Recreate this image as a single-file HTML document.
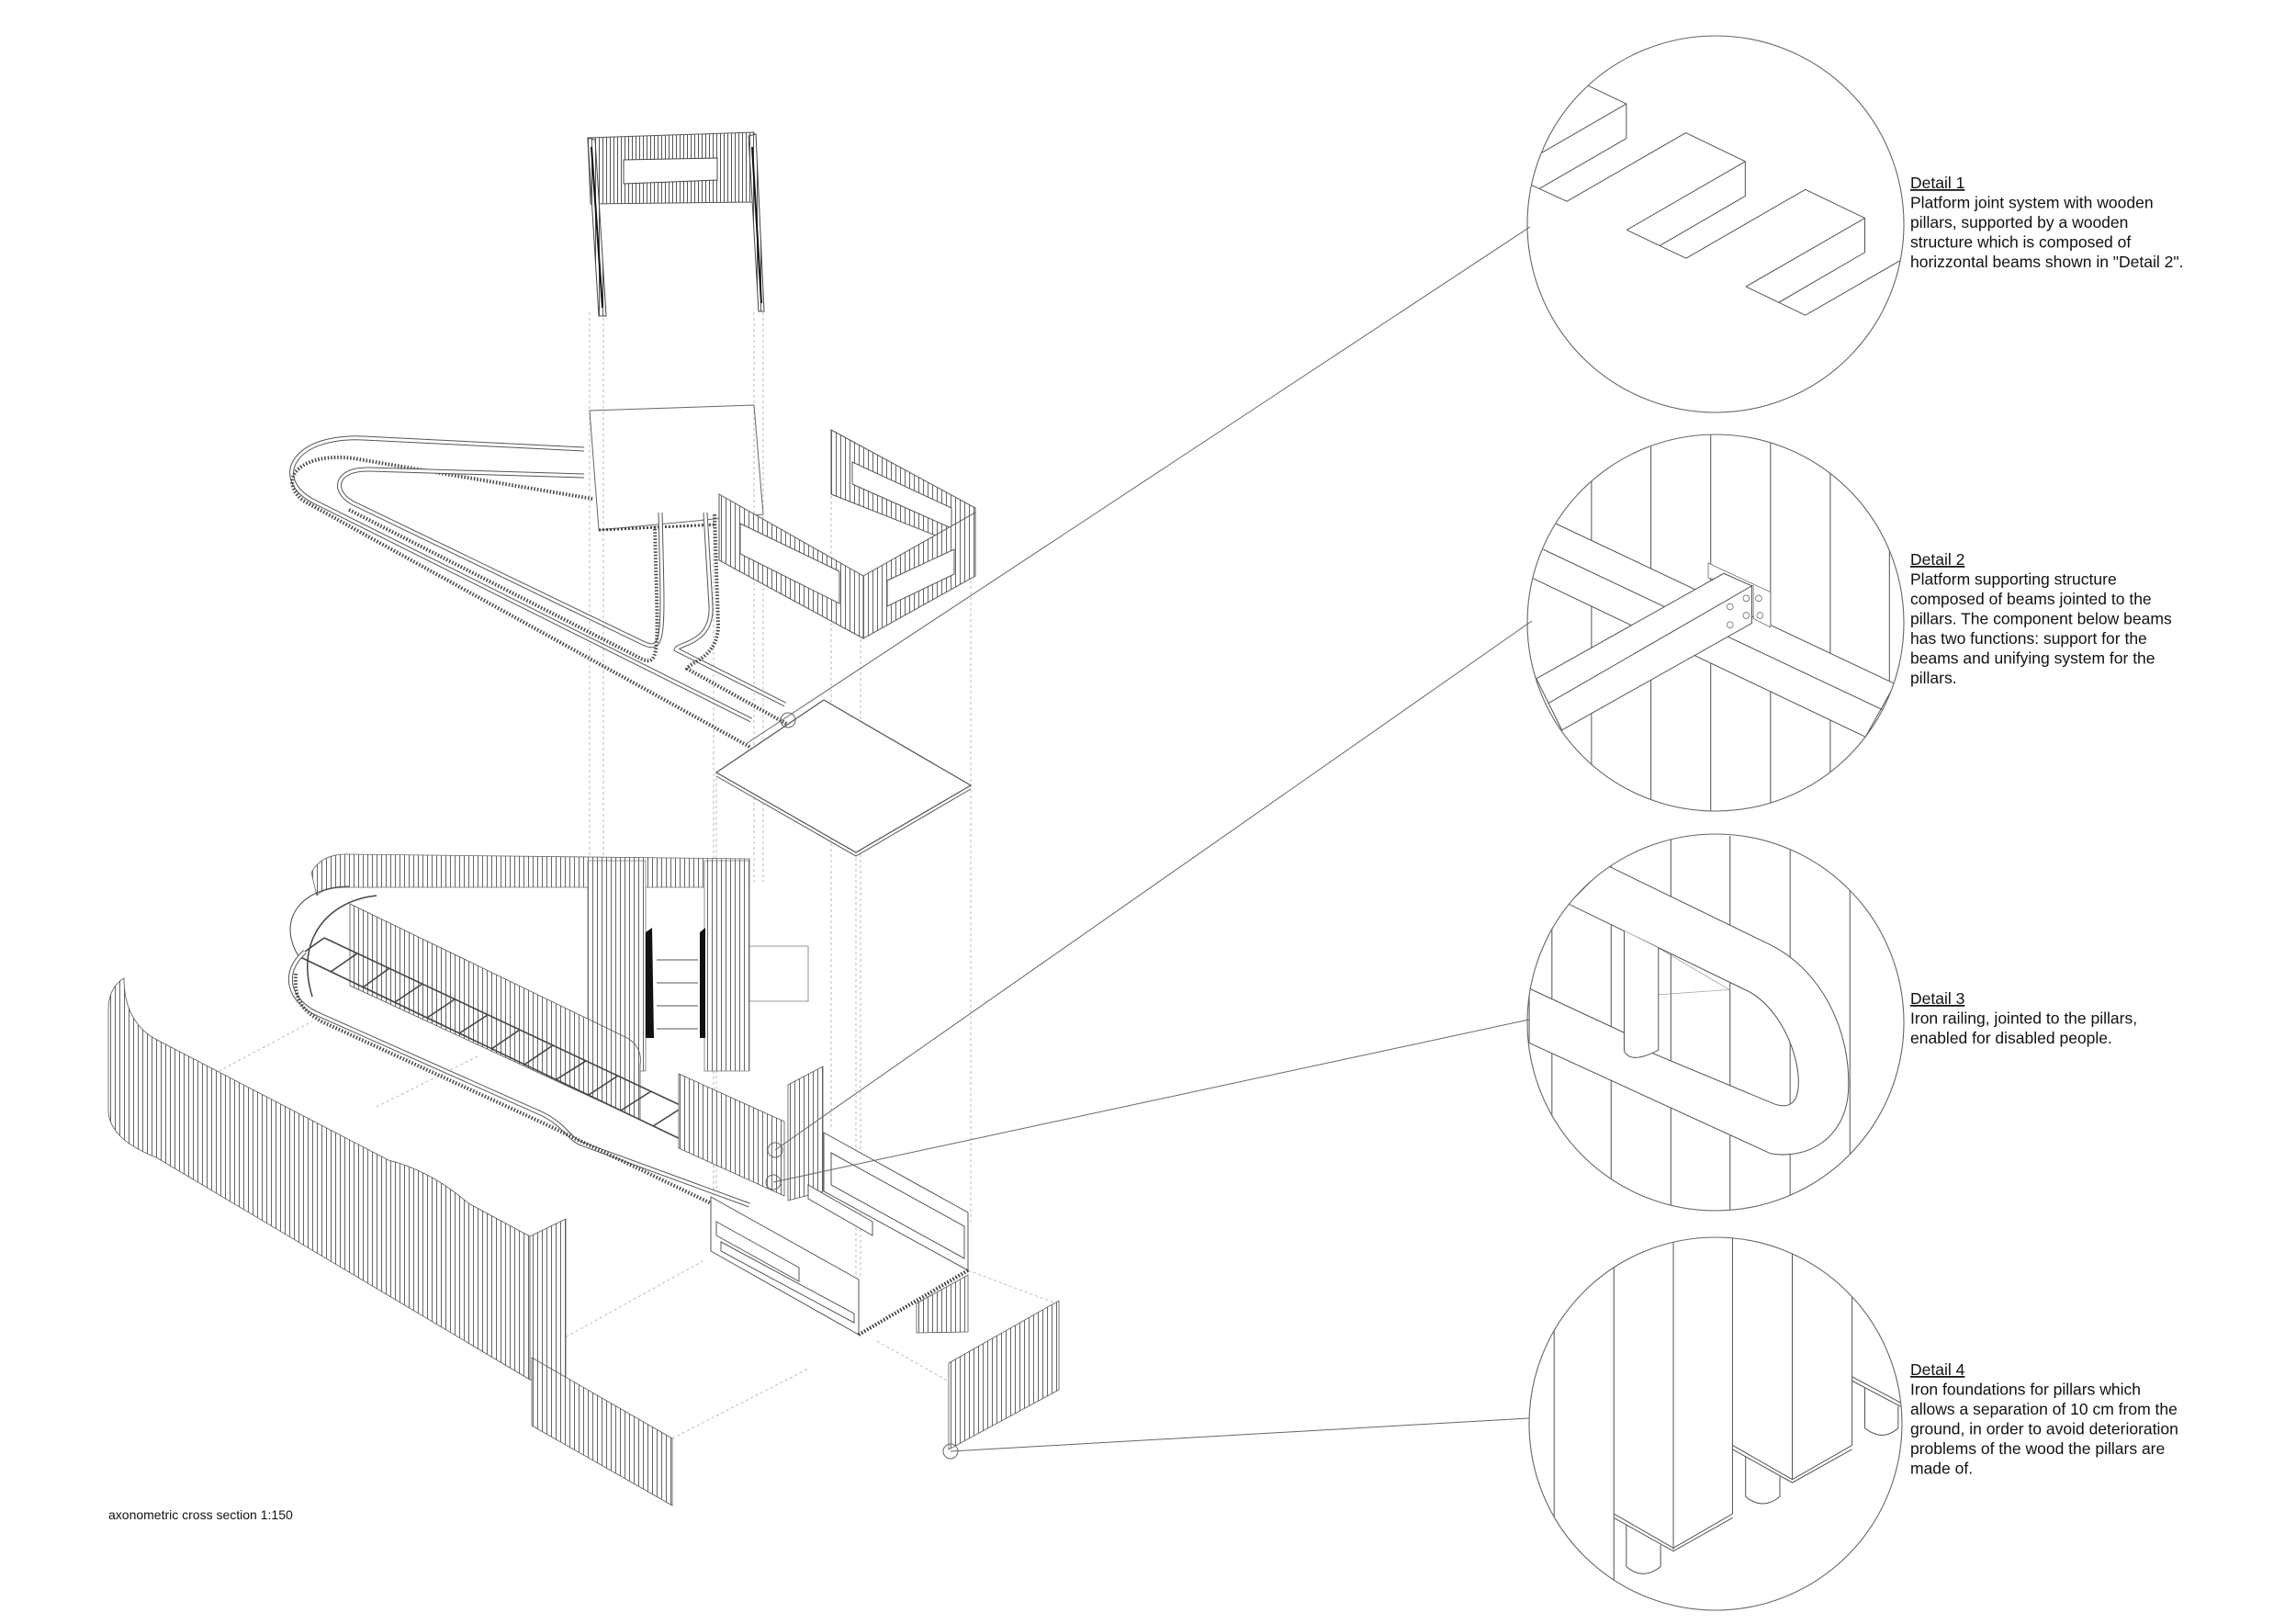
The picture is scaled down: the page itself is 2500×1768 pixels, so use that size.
<!DOCTYPE html>
<html><head><meta charset="utf-8">
<style>
html,body{margin:0;padding:0;background:#fff;}
svg{display:block;}
text{font-family:"Liberation Sans",Arial,sans-serif;fill:#111;}
</style></head>
<body>
<svg width="2500" height="1768" viewBox="0 0 2500 1768" xmlns="http://www.w3.org/2000/svg">
<defs>
<pattern id="h" patternUnits="userSpaceOnUse" width="5" height="10">
<rect width="5" height="10" fill="#fff"/><line x1="0.5" y1="0" x2="0.5" y2="10" stroke="#666" stroke-width="1"/>
</pattern>
<pattern id="h2" patternUnits="userSpaceOnUse" width="4" height="10">
<rect width="4" height="10" fill="#fff"/><line x1="0.5" y1="0" x2="0.5" y2="10" stroke="#555" stroke-width="1"/>
</pattern>
<clipPath id="c1"><circle cx="1868" cy="244" r="205"/></clipPath>
<clipPath id="c2"><circle cx="1868" cy="678" r="205"/></clipPath>
<clipPath id="c3"><circle cx="1868" cy="1113" r="205"/></clipPath>
<clipPath id="c4"><circle cx="1868" cy="1550" r="203"/></clipPath>
</defs>

<!-- dotted guide verticals -->
<g stroke="#aaa" stroke-width="0.8" stroke-dasharray="3 3" fill="none">
<line x1="642" y1="340" x2="642" y2="1060"/>
<line x1="657" y1="340" x2="657" y2="1060"/>
<line x1="821" y1="340" x2="821" y2="960"/>
<line x1="831" y1="340" x2="831" y2="960"/>
<line x1="777" y1="560" x2="777" y2="1360"/>
<line x1="905" y1="540" x2="905" y2="1230"/>
<line x1="937" y1="690" x2="937" y2="1390"/>
<line x1="1057" y1="620" x2="1057" y2="1330"/>
<line x1="780" y1="841" x2="780" y2="1300"/>
<line x1="932" y1="928" x2="932" y2="1390"/>
<line x1="233" y1="1169" x2="340" y2="1112"/>
<line x1="410" y1="1205" x2="520" y2="1150"/>
<line x1="590" y1="1470" x2="765" y2="1373"/>
<line x1="732" y1="1566" x2="880" y2="1490"/>
<line x1="1054" y1="1383" x2="1153" y2="1420"/>
<line x1="955" y1="1460" x2="1035" y2="1505"/>
</g>

<!-- top tower -->
<polygon points="640,150 821,144 821,220 643,222" fill="url(#h2)" stroke="#555"/>
<polygon points="679,174 781,172 781,196 679,200" fill="#fff" stroke="#444"/>
<polygon points="640,150 648,152 660,344 652,344" fill="url(#h2)" stroke="#444"/>
<line x1="644" y1="160" x2="656" y2="335" stroke="#111" stroke-width="2"/>
<polygon points="815,148 823,146 832,339 826,339" fill="url(#h2)" stroke="#444"/>
<line x1="819" y1="160" x2="829" y2="330" stroke="#111" stroke-width="2"/>
<!-- plate under tower -->
<polygon points="642,447 821,441 831,560 652,577" fill="none" stroke="#666" stroke-width="1"/>
<line x1="652" y1="577" x2="780" y2="571" stroke="#444" stroke-width="3" stroke-dasharray="2 2"/>

<!-- upper ramp loops -->
<g fill="none" stroke-linejoin="round">
<path d="M636,489 L396,477 C320,473 295,520 340,545 L818,784" stroke="#555" stroke-width="5"/>
<path d="M636,489 L396,477 C320,473 295,520 340,545 L818,784" stroke="#fff" stroke-width="3"/>
<path d="M645,543 L385,499 C330,492 300,520 330,545 L818,814" stroke="#444" stroke-width="4" stroke-dasharray="1.5 2"/>
<path d="M636,518 L402,511 C365,510 360,535 385,548 L700,700 C725,712 722,690 719,558" stroke="#555" stroke-width="5"/>
<path d="M636,518 L402,511 C365,510 360,535 385,548 L700,700 C725,712 722,690 719,558" stroke="#fff" stroke-width="3"/>
<path d="M380,555 L700,718 C720,726 716,700 713,573" stroke="#444" stroke-width="4" stroke-dasharray="1.5 2"/>
<path d="M768,558 L774,660 C776,700 740,700 736,707 L855,767" stroke="#555" stroke-width="5"/>
<path d="M768,558 L774,660 C776,700 740,700 736,707 L855,767" stroke="#fff" stroke-width="3"/>
<path d="M778,560 L782,680 C782,716 752,720 748,728 L860,790" stroke="#444" stroke-width="4" stroke-dasharray="1.5 2"/>
</g>

<!-- U fence -->
<polygon points="905,468 1062,553 1062,600 905,538" fill="url(#h)" stroke="#555"/>
<polygon points="928,503 1036,553 1036,575 928,527" fill="#fff" stroke="#555"/>
<polygon points="783,538 940,627 940,695 783,610" fill="url(#h)" stroke="#555"/>
<polygon points="806,570 914,622 914,657 806,603" fill="#fff" stroke="#555"/>
<polygon points="940,627 1062,558 1062,627 940,695" fill="url(#h)" stroke="#555"/>
<polygon points="966,632 1039,598 1039,625 966,660" fill="#fff" stroke="#555"/>

<!-- square plate -->
<polygon points="897,762 1057,855 932,928 780,841" fill="#fff" stroke="#555" stroke-width="1.2"/>
<polyline points="780,845 932,932 1057,859" fill="none" stroke="#555"/>

<!-- lower structure: back fence -->
<path d="M339,950 Q350,929 380,930 L816,935 L816,966 L380,966 Q352,966 345,975 Z" fill="url(#h)" stroke="#666" stroke-width="0.8"/>
<polygon points="640,937 703,937 703,1166 640,1166" fill="url(#h)" stroke="#777" stroke-width="0.8"/>
<polygon points="767,937 816,937 816,1166 767,1166" fill="url(#h)" stroke="#777" stroke-width="0.8"/>
<polygon points="703,1015 710,1010 712,1130 703,1130" fill="#111"/>
<polygon points="762,1015 768,1010 768,1130 762,1130" fill="#111"/>
<polygon points="816,1030 880,1030 880,1090 816,1090" fill="none" stroke="#777" stroke-width="0.8"/>
<g stroke="#555" stroke-width="1"><line x1="715" y1="1045" x2="760" y2="1045"/><line x1="715" y1="1070" x2="760" y2="1070"/><line x1="715" y1="1095" x2="760" y2="1095"/><line x1="715" y1="1120" x2="760" y2="1120"/></g>

<!-- spiral -->
<path d="M340,1085 C320,1020 360,980 410,975" fill="none" stroke="#444" stroke-width="1.5"/>
<path d="M325,1041 C300,1000 330,965 380,965" fill="none" stroke="#444" stroke-width="1"/>

<!-- long diagonal fence -->
<path d="M381,984 L683,1130 Q700,1140 697,1160 L697,1219 L381,1073 Z" fill="url(#h)" stroke="#555" stroke-width="0.8"/>

<!-- ladder -->
<g stroke="#444" stroke-width="1.6" fill="none">
<line x1="353" y1="1021" x2="851" y2="1255"/>
<line x1="325" y1="1041" x2="816" y2="1276"/>
<line x1="353" y1="1021" x2="325" y2="1041"/><line x1="389" y1="1038" x2="360" y2="1058"/>
<line x1="424" y1="1054" x2="395" y2="1075"/><line x1="460" y1="1071" x2="430" y2="1091"/>
<line x1="495" y1="1088" x2="465" y2="1108"/><line x1="531" y1="1105" x2="500" y2="1125"/>
<line x1="566" y1="1121" x2="535" y2="1142"/><line x1="602" y1="1138" x2="571" y2="1159"/>
<line x1="638" y1="1155" x2="606" y2="1175"/><line x1="673" y1="1171" x2="641" y2="1192"/>
<line x1="709" y1="1188" x2="676" y2="1209"/><line x1="744" y1="1205" x2="711" y2="1226"/>
<line x1="780" y1="1222" x2="746" y2="1243"/><line x1="815" y1="1238" x2="781" y2="1259"/>
<line x1="851" y1="1255" x2="816" y2="1276"/>
</g>

<!-- lower rail -->
<path d="M332,1036 C305,1060 315,1090 346,1104 L591,1213 C615,1225 620,1240 633,1245 L816,1312" fill="none" stroke="#555" stroke-width="5"/>
<path d="M332,1036 C305,1060 315,1090 346,1104 L591,1213 C615,1225 620,1240 633,1245 L816,1312" fill="none" stroke="#fff" stroke-width="3"/>
<path d="M322,1060 C320,1090 330,1100 350,1112 L590,1222 L816,1330" fill="none" stroke="#444" stroke-width="4" stroke-dasharray="1.5 2"/>

<!-- fence panels near platform -->
<polygon points="739,1169 854,1221 854,1302 739,1250" fill="url(#h)" stroke="#555" stroke-width="0.8"/>
<polygon points="858,1181 896,1161 896,1297 858,1307" fill="url(#h)" stroke="#555" stroke-width="0.8"/>

<!-- platform box -->
<polygon points="897,1233 1054,1320 1054,1383 897,1297" fill="#fff" stroke="#555"/>
<polygon points="905,1255 1050,1335 1050,1370 905,1290" fill="none" stroke="#555"/>
<polygon points="774,1303 935,1393 935,1453 774,1362" fill="#fff" stroke="#555"/>
<polygon points="780,1330 870,1380 870,1395 780,1345" fill="none" stroke="#555"/>
<polygon points="785,1352 930,1430 930,1440 785,1362" fill="none" stroke="#555"/>
<line x1="935" y1="1453" x2="1054" y2="1383" stroke="#333" stroke-width="4" stroke-dasharray="1.5 2"/>
<polygon points="998,1419 1054,1388 1054,1450 998,1451" fill="url(#h)" stroke="#555" stroke-width="0.8"/>
<polygon points="880,1290 950,1330 950,1345 880,1305" fill="#fff" stroke="#555"/>

<!-- big curved fence -->
<path d="M135,1065 Q118,1075 118,1100 L118,1208 Q118,1240 170,1260 L577,1502 L577,1346 L510,1310 Q470,1275 423,1263 L167,1130 Q135,1110 135,1065 Z" fill="url(#h)" stroke="#555" stroke-width="0.8"/>
<polygon points="577,1346 616,1327 616,1505 577,1502" fill="url(#h)" stroke="#555" stroke-width="0.8"/>
<polygon points="579,1478 732,1566 732,1639 579,1552" fill="url(#h)" stroke="#555" stroke-width="0.8"/>
<polygon points="1033,1484 1153,1416 1153,1513 1033,1578" fill="url(#h)" stroke="#555" stroke-width="0.8"/>

<!-- markers and leader lines -->
<g fill="none" stroke="#666" stroke-width="1">
<circle cx="858" cy="784" r="8"/>
<line x1="812" y1="810" x2="1666" y2="247"/>
<circle cx="844" cy="1252" r="8"/>
<line x1="844" y1="1252" x2="1668" y2="676"/>
<circle cx="842" cy="1287" r="8"/>
<line x1="842" y1="1287" x2="1665" y2="1110"/>
<circle cx="1035" cy="1580" r="8"/>
<line x1="1035" y1="1580" x2="1665" y2="1544"/>
</g>

<text x="118" y="1654" font-size="14">axonometric cross section 1:150</text>

<!-- detail 1 contents -->
<g clip-path="url(#c1)"><g transform="translate(1660,30) scale(0.339)" fill="none" stroke="#555" stroke-width="3">
<polyline points="203,186 327,245 327,356"/>
<line x1="327" y1="245" x2="50" y2="405"/>
<line x1="327" y1="356" x2="48" y2="517"/>
<polyline points="20,505 136,558 518,338 709,430 709,541 435,700"/>
<line x1="709" y1="430" x2="328" y2="650"/>
<polyline points="328,650 519,741 902,520 1093,612 1093,722 818,882"/>
<line x1="1093" y1="612" x2="711" y2="832"/>
<polyline points="711,832 902,924 1212,745"/>
</g></g>

<!-- detail 2 contents -->
<g clip-path="url(#c2)"><g transform="translate(1660,470) scale(0.339)" fill="none" stroke="#555" stroke-width="3">
<line x1="215" y1="0" x2="215" y2="1240"/><line x1="406" y1="0" x2="406" y2="1240"/>
<line x1="598" y1="0" x2="598" y2="1240"/><line x1="790" y1="0" x2="790" y2="1240"/>
<line x1="982" y1="0" x2="982" y2="1240"/><line x1="1172" y1="0" x2="1172" y2="1240"/>
<polygon points="100,295 1190,810 1095,980 25,470 0,460 0,280" fill="#fff"/>
<line x1="60" y1="378" x2="1150" y2="893"/>
<polygon points="590,422 790,515 790,628 735,600 735,495 590,470" fill="#fff" stroke-width="2"/>
<polygon points="38,793 640,455 730,495 730,615 120,958" fill="#fff"/>
<line x1="75" y1="873" x2="730" y2="495"/>
<g stroke-width="2"><circle cx="660" cy="562" r="10"/><circle cx="712" cy="535" r="10"/><circle cx="660" cy="620" r="10"/>
<circle cx="712" cy="590" r="10"/><circle cx="752" cy="535" r="10"/><circle cx="756" cy="590" r="10"/></g>
</g></g>

<!-- detail 3 contents -->
<g clip-path="url(#c3)"><g transform="translate(1660,910) scale(0.339)" fill="none" stroke="#555" stroke-width="3">
<line x1="88" y1="0" x2="88" y2="1240"/><line x1="278" y1="0" x2="278" y2="1240"/>
<line x1="470" y1="0" x2="470" y2="1240"/><line x1="660" y1="0" x2="660" y2="1240"/>
<line x1="853" y1="0" x2="853" y2="1240"/><line x1="1045" y1="0" x2="1045" y2="1240"/>
<polyline points="430,360 660,495 640,495 430,510" stroke="#999" stroke-width="2"/>
<path d="M265,95 L790,350 C950,430 1050,620 1040,820 C1030,980 900,1040 790,1020 L15,665 L15,490 L320,632 L320,660 L800,860 C840,875 880,870 880,790 C880,700 820,540 700,490 L140,218 Z" fill="#fff"/>
<path d="M320,305 L320,690 Q340,735 430,688 L430,360" fill="#fff"/>
</g></g>

<!-- detail 4 contents -->
<g clip-path="url(#c4)"><g transform="translate(1660,1348) scale(0.339)" fill="none" stroke="#555" stroke-width="3">
<line x1="95" y1="0" x2="95" y2="1240"/>
<line x1="287" y1="0" x2="287" y2="1240"/>
<line x1="478" y1="0" x2="478" y2="1000"/>
<line x1="668" y1="0" x2="668" y2="885"/>
<line x1="860" y1="0" x2="860" y2="775"/>
<line x1="1052" y1="0" x2="1052" y2="665"/>
<polyline points="287,885 478,995 668,885"/><polyline points="287,898 478,1005 668,898"/>
<polyline points="668,665 860,775 1052,665"/><polyline points="668,678 860,785 1052,678"/>
<polyline points="1052,445 1230,540"/><polyline points="1052,458 1230,552"/>
<path d="M327,920 L327,1055 Q380,1100 437,1055 L437,985"/>
<path d="M710,700 L710,830 Q765,875 820,830 L820,765"/>
<path d="M1093,480 L1093,610 Q1150,655 1200,610 L1200,540"/>
</g></g>

<!-- detail circles -->
<g fill="none" stroke="#666" stroke-width="1.1">
<circle cx="1868" cy="244" r="205"/>
<circle cx="1868" cy="678" r="205"/>
<circle cx="1868" cy="1113" r="205"/>
<circle cx="1868" cy="1550" r="203"/>
</g>

<!-- detail texts -->
<g font-size="17.5">
<text x="2080" y="205" text-decoration="underline">Detail 1</text>
<text x="2080" y="226.5">Platform joint system with wooden</text>
<text x="2080" y="248">pillars, supported by a wooden</text>
<text x="2080" y="269.5">structure which is composed of</text>
<text x="2080" y="291">horizzontal beams shown in "Detail 2".</text>

<text x="2080" y="615" text-decoration="underline">Detail 2</text>
<text x="2080" y="636.5">Platform supporting structure</text>
<text x="2080" y="658">composed of  beams jointed to the</text>
<text x="2080" y="679.5">pillars. The component below beams</text>
<text x="2080" y="701">has two functions: support for the</text>
<text x="2080" y="722.5">beams and unifying system for the</text>
<text x="2080" y="744">pillars.</text>

<text x="2080" y="1093" text-decoration="underline">Detail 3</text>
<text x="2080" y="1114.5">Iron railing, jointed to the pillars,</text>
<text x="2080" y="1136">enabled for disabled people.</text>

<text x="2080" y="1497" text-decoration="underline">Detail 4</text>
<text x="2080" y="1518.5">Iron foundations for pillars which</text>
<text x="2080" y="1540">allows a separation of 10 cm from the</text>
<text x="2080" y="1561.5">ground, in order to avoid deterioration</text>
<text x="2080" y="1583">problems of the wood the pillars are</text>
<text x="2080" y="1604.5">made of.</text>
</g>
</svg>
</body></html>
